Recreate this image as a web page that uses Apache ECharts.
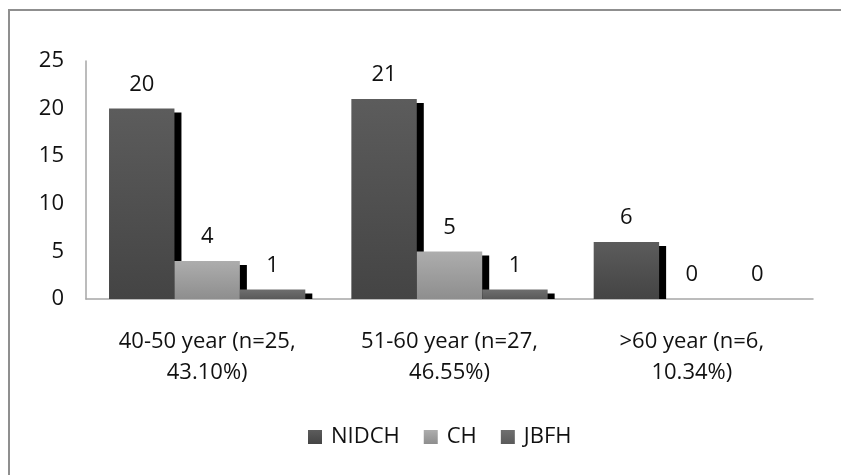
<!DOCTYPE html>
<html>
<head>
<meta charset="utf-8">
<script src="https://cdn.jsdelivr.net/npm/echarts@6/dist/echarts.min.js"></script>
<style>
html,body{margin:0;padding:0;background:#fff;}
#frame{position:absolute;left:8px;top:9px;right:-10px;bottom:-10px;border-left:2px solid #8f8f8f;border-top:2px solid #8f8f8f;}
#chart{position:absolute;left:0;top:0;width:841px;height:475px;}
</style>
</head>
<body>
<div id="frame"></div>
<div id="chart"></div>
<script>
const categories = ['40-50 year (n=25,\n43.10%)', '51-60 year (n=27,\n46.55%)', '>60 year (n=6,\n10.34%)'];
const seriesNames = ['NIDCH', 'CH', 'JBFH'];
const nidch = [20, 21, 6];
const ch = [4, 5, 0];
const jbfh = [1, 1, 0];
const yTicks = [0, 5, 10, 15, 20, 25];

const FONT = 'Open Sans';
const FS = 22;
const gradients = [
  ['#5c5c5c', '#444444'],
  ['#adadad', '#8e8e8e'],
  ['#6f6f6f', '#5a5a5a']
];
function grad(i) {
  return new echarts.graphic.LinearGradient(0, 0, 0, 1, [
    {offset: 0, color: gradients[i][0]},
    {offset: 1, color: gradients[i][1]}
  ]);
}
const values = [nidch, ch, jbfh];

function makeRender(si) {
  return function (params, api) {
    const c = api.value(0), v = api.value(1);
    const base = api.coord([c, 0]);
    const top = api.coord([c, v]);
    const band = api.size([1, 0])[0];
    const bw = band * 0.27;
    const x = base[0] + (si - 1) * bw - bw / 2;
    const h = base[1] - top[1];
    const children = [];
    if (h > 4) {
      children.push({type: 'rect', shape: {x: x + 7, y: top[1] + 4, width: bw, height: h - 4}, style: {fill: '#000'}});
    }
    if (h > 0) {
      children.push({type: 'rect', shape: {x: x, y: top[1], width: bw, height: h}, style: {fill: grad(si)}});
    }
    children.push({type: 'text', style: {text: String(v), x: x + bw / 2, y: top[1] - 13, align: 'center', verticalAlign: 'bottom', font: FS + 'px "' + FONT + '"', fill: '#111'}});
    return {type: 'group', children: children};
  };
}

const chart = echarts.init(document.getElementById('chart'), null, {renderer: 'canvas'});
chart.setOption({
  animation: false,
  backgroundColor: 'transparent',
  grid: {left: 86, right: 28, top: 61, bottom: 176},
  legend: {
    data: seriesNames,
    bottom: 22,
    left: 303,
    icon: 'rect',
    itemWidth: 14,
    itemHeight: 14,
    itemGap: 24,
    textStyle: {fontFamily: FONT, fontSize: FS, color: '#111', padding: [0, 0, 0, 4]}
  },
  xAxis: {
    type: 'category',
    data: categories,
    axisLine: {lineStyle: {color: '#a6a6a6', width: 1.5}},
    axisTick: {show: false},
    axisLabel: {fontFamily: FONT, fontSize: FS, color: '#111', lineHeight: 31, margin: 27, interval: 0}
  },
  yAxis: {
    type: 'value',
    min: 0, max: 25, interval: 5,
    axisLine: {show: true, lineStyle: {color: '#a6a6a6', width: 1.5}},
    axisTick: {show: false},
    splitLine: {show: false},
    axisLabel: {fontFamily: FONT, fontSize: FS, color: '#111', margin: 22}
  },
  series: seriesNames.map((n, si) => ({
    name: n,
    type: 'custom',
    renderItem: makeRender(si),
    itemStyle: {color: grad(si)},
    encode: {x: 0, y: 1},
    data: values[si].map((v, i) => [i, v])
  }))
});
</script>
</body>
</html>
